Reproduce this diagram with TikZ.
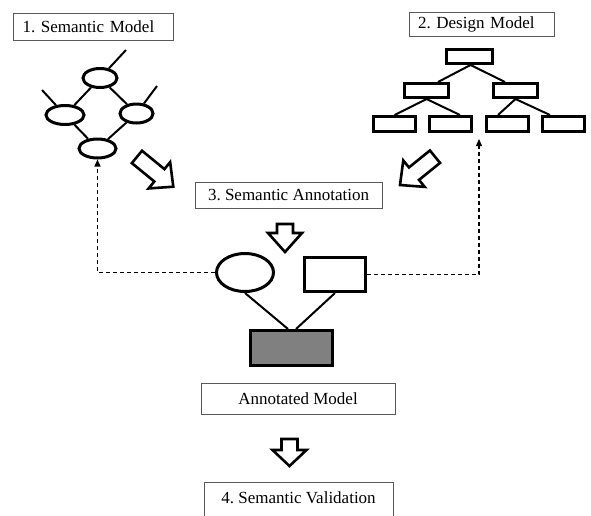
\documentclass[tikz,border=0pt]{standalone}
\usepackage{fontspec}
\setmainfont{Liberation Serif}
\usetikzlibrary{shapes.geometric,arrows.meta,calc}
\begin{document}
\begin{tikzpicture}[x=1pt,y=-1pt,
  label box/.style={draw=black!65, line width=1pt, fill=white, inner sep=0pt,
    font=\fontsize{17}{20}\selectfont\frenchspacing},
  oval/.style={ellipse, draw, line width=3pt, inner sep=0pt},
  block/.style={rectangle, draw, line width=3pt, inner sep=0pt},
  link/.style={line width=2pt},
  feedback/.style={line width=1.3pt, dash pattern=on 4pt off 3pt,
    -{Triangle[length=7pt,width=6pt]}},
  hollow line/.style={draw, line width=2.6pt, fill=white, line join=miter},
  pics/hollow arrow/.style args={#1/#2}{code={
    \path[hollow line] (-8,-#1) -- (8,-#1) -- (8,-#2) -- (17,-#2) -- (0,0)
      -- (-17,-#2) -- (-8,-#2) -- cycle;}}
]
\clip (0,0) rectangle (591,515);
\fill[white] (0,0) rectangle (591,515);

% step labels
\node[label box, minimum width=160pt, minimum height=27pt, text width=141pt, align=left]
  (l1) at (93,26.5) {1. Semantic Model};
\node[label box, minimum width=145pt, minimum height=24pt, text width=127pt, align=left]
  (l2) at (481.5,24) {2. Design Model};
\node[label box, minimum width=187pt, minimum height=26pt] (l3) at (288.5,195) {3. Semantic Annotation};
\node[label box, minimum width=194pt, minimum height=31pt] (l4) at (298,398.5) {Annotated Model};
\node[label box, minimum width=189pt, text height=21pt, text depth=20pt, anchor=north]
  (l5) at (298.5,482) {4. Semantic Validation};

% semantic model graph
\node[oval, minimum width=34pt, minimum height=19pt] (s1) at (100,78) {};
\node[oval, minimum width=38pt, minimum height=19pt] (s2) at (65,115) {};
\node[oval, minimum width=33pt, minimum height=19pt] (s3) at (136.5,113.5) {};
\node[oval, minimum width=37pt, minimum height=19pt] (s4) at (97.5,148.5) {};
\coordinate (s1t) at (126,50);
\coordinate (s2t) at (42,90);
\coordinate (s3t) at (157,86);
\draw[link] (s1) -- (s2);
\draw[link] (s1) -- (s3);
\draw[link] (s2) -- (s4);
\draw[link] (s3) -- (s4);
\draw[link] (s1) -- (s1t);
\draw[link] (s2) -- (s2t);
\draw[link] (s3) -- (s3t);

% design model tree
\node[block, minimum width=46pt, minimum height=14pt] (d0) at (469.5,56.5) {};
\node[block, minimum width=44pt, minimum height=14pt] (d1) at (426.5,90.5) {};
\node[block, minimum width=44pt, minimum height=14pt] (d2) at (515.5,90.5) {};
\node[block, minimum width=42pt, minimum height=15pt] (d3) at (394.5,124) {};
\node[block, minimum width=42pt, minimum height=15pt] (d4) at (450.5,124) {};
\node[block, minimum width=42pt, minimum height=15pt] (d5) at (507.5,124) {};
\node[block, minimum width=42pt, minimum height=15pt] (d6) at (563,124) {};
\draw[link] ([xshift=1pt]d0.south) -- ([xshift=11.5pt]d1.north);
\draw[link] ([xshift=1pt]d0.south) -- ([xshift=-10.5pt]d2.north);
\draw[link] (d1.south) -- (d3.north);
\draw[link] (d1.south) -- ([xshift=9.5pt]d4.north);
\draw[link] (d2.south) -- ([xshift=-9.5pt]d5.north);
\draw[link] (d2.south) -- ([xshift=-13pt]d6.north);

% annotated model
\node[oval, minimum width=57pt, minimum height=38pt] (a1) at (245,272.5) {};
\node[block, minimum width=61pt, minimum height=34pt] (a2) at (335,274.5) {};
\node[block, minimum width=82pt, minimum height=35pt, fill=black!50] (a3) at (291.5,348) {};
\draw[link] (a1.south) -- ([xshift=-3.5pt]a3.north);
\draw[link] (a2.south) -- ([xshift=4.5pt]a3.north);

% feedback links
\coordinate (rt) at (479,139);
\draw[feedback] (a1.west) -| (s4.south);
\draw[feedback] (a2.east) -| (rt);

% flow arrows
\pic[rotate=50.7] at (173.3,186.7) {hollow arrow=47/18};
\pic[rotate=-51] at (400,185) {hollow arrow=45/18};
\pic at (285,252) {hollow arrow=28/19};
\pic at (289.5,466) {hollow arrow=27/16};
\end{tikzpicture}
\end{document}
